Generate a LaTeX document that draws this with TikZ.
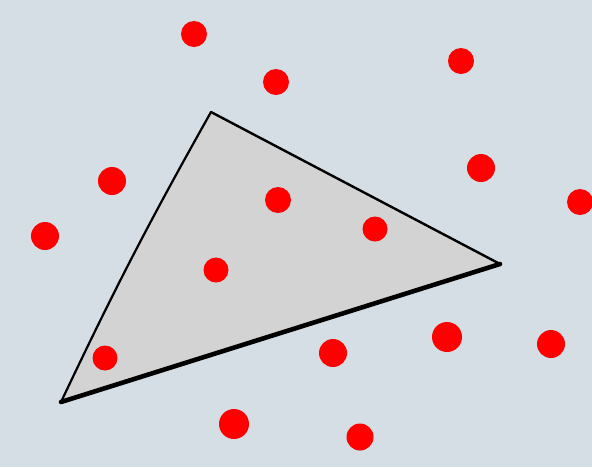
\documentclass[tikz,border=0pt]{standalone}
\definecolor{bg}{HTML}{D5DEE5}
\definecolor{tri}{HTML}{D3D3D3}
\tikzset{dot/.style={circle,fill=red,draw=none,inner sep=0pt,minimum size=#1},
  edge/.style={black,line cap=round,line join=round}}
\begin{document}
\begin{tikzpicture}[x=1pt,y=-1pt]
\fill[bg] (0,0) rectangle (592,467);
\useasboundingbox (0,0) rectangle (592,467);
\coordinate (A) at (211,112);
\coordinate (B) at (500,264);
\coordinate (C) at (61,402);
\fill[tri] (A) -- (B) -- (C) to[bend left=2] cycle;
\draw[edge,line width=2.4pt] (A) -- (B);
\draw[edge,line width=2.2pt] (C) to[bend left=2] (A);
\draw[edge,line width=4.6pt] (C) -- (B);
\node[dot=26pt] (d1) at (194,34) {};
\node[dot=26pt] (d2) at (276,82) {};
\node[dot=26pt] (d3) at (461,61) {};
\node[dot=28pt] (d4) at (112,181) {};
\node[dot=28pt] (d5) at (481,168) {};
\node[dot=26pt] (d6) at (580,202) {};
\node[dot=28pt] (d7) at (45,236) {};
\node[dot=26pt] (d8) at (278,200) {};
\node[dot=25pt] (d9) at (375,229) {};
\node[dot=25pt] (d10) at (216,270) {};
\node[dot=25pt] (d11) at (105,358) {};
\node[dot=28pt] (d12) at (333,353) {};
\node[dot=30pt] (d13) at (447,337) {};
\node[dot=28pt] (d14) at (551,344) {};
\node[dot=30pt] (d15) at (234,424) {};
\node[dot=27pt] (d16) at (360,437) {};
\end{tikzpicture}
\end{document}
